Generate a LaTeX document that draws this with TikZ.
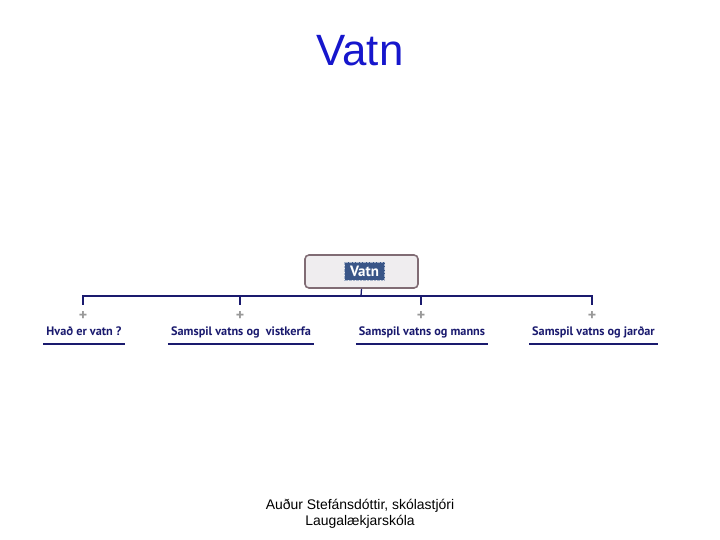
\documentclass[tikz,border=0pt]{standalone}
\usepackage{fontspec}
\setmainfont{Liberation Sans}
\newfontfamily\mapfont{PT Sans}
\definecolor{titleblue}{RGB}{22,22,204}
\definecolor{navy}{RGB}{26,26,110}
\definecolor{tagblue}{RGB}{58,86,136}
\definecolor{rootfill}{RGB}{239,237,239}
\definecolor{rootedge}{RGB}{128,108,116}
\begin{document}
\begin{tikzpicture}[x=1bp, y=-1bp,
        root_box/.style={rectangle, rounded corners=4bp, draw=rootedge, line width=1.6bp, fill=rootfill, minimum width=113bp, minimum height=33bp},
        tag/.style={rectangle, draw=tagblue!45!white, densely dotted, fill=tagblue, text=white, font=\mapfont\bfseries\fontsize{15}{16}\selectfont, minimum width=40bp, minimum height=18bp, text height=11bp, text depth=0bp, inner xsep=2bp, inner ysep=0pt},
        plus/.style={text=gray!80, font=\mapfont\bfseries\fontsize{16}{16}\selectfont, inner sep=0pt, minimum height=10bp},
        topic/.style={anchor=base, text=navy, font=\mapfont\bfseries\fontsize{12.3}{14}\selectfont, inner xsep=3bp, inner ysep=6.5bp, text depth=2.5bp},
        link/.style={draw=navy, line width=1.3bp},
        underline/.style={draw=navy, line width=1.5bp}
    ]
    \useasboundingbox (0,0) rectangle (720,540);

    % Title
    \node[text=titleblue, font=\fontsize{44}{50}\selectfont] (title) at (360,51) {Vatn};

    % Central topic
    \node[root_box] (root) at (361.5,271.5) {};
    \node[tag] (rootlabel) at (364.5,271) {Vatn};

    % Expand markers
    \node[plus] (p1) at (83,316) {+};
    \node[plus] (p2) at (240,316) {+};
    \node[plus] (p3) at (421,316) {+};
    \node[plus] (p4) at (592,316) {+};

    % Subtopics
    \node[topic] (c1) at (84,335) {Hvað er vatn ?};
    \node[topic] (c2) at (241,335) {Samspil vatns og \ vistkerfa};
    \node[topic] (c3) at (422,335) {Samspil vatns og manns};
    \node[topic] (c4) at (593.5,335) {Samspil vatns og jarðar};

    \foreach \c in {c1,c2,c3,c4}
        \draw[underline] (\c.south west) -- (\c.south east);

    % Branches from the central topic
    \coordinate (bus) at (361,296);
    \draw[link] (root.south) -- (bus);
    \foreach \p in {p1,p2,p3,p4}
        \draw[link, shorten >=6bp] (bus) -| (\p.north);

    % Footer
    \node[font=\fontsize{14}{16}\selectfont, align=center] (footer) at (360,514) {Auður Stefánsdóttir, skólastjóri\\Laugalækjarskóla};

\end{tikzpicture}
\end{document}
